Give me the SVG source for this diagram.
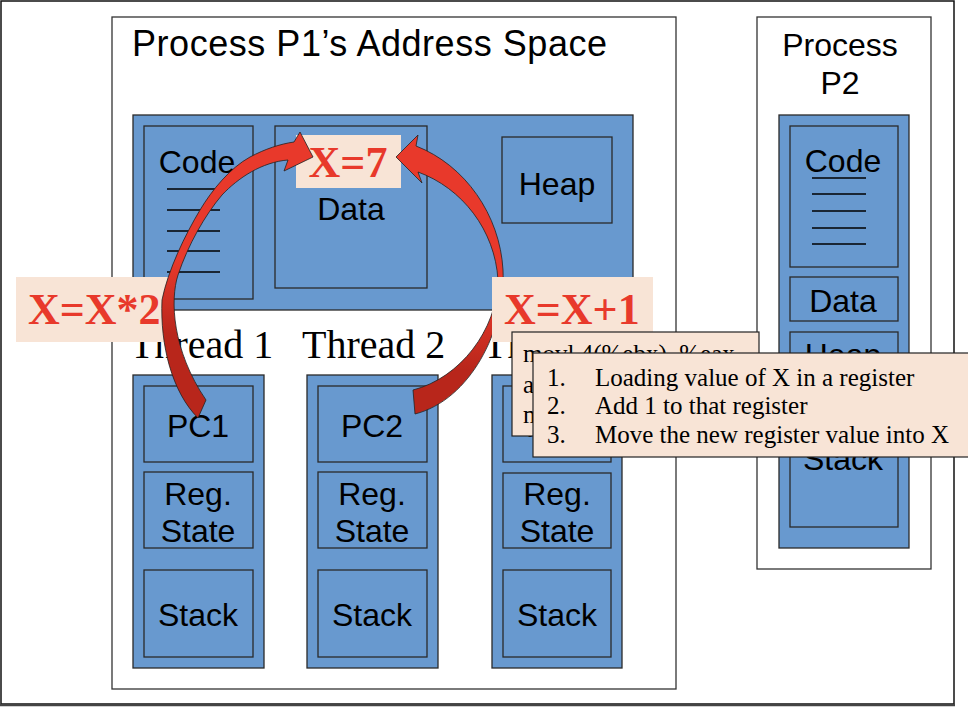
<svg xmlns="http://www.w3.org/2000/svg" width="968" height="708" viewBox="0 0 968 708">
<style>
.box{fill:#ffffff;stroke:#333;stroke-width:1.3}
.blue{fill:#6899cf;stroke:#2a2a2a;stroke-width:1.3}
.lbl{font-family:"Liberation Sans",Arial,sans-serif;font-size:32px;fill:#000;text-anchor:middle}
.thr{font-family:"Liberation Serif","Times New Roman",serif;font-size:40px;fill:#000}
.red{font-family:"Liberation Serif","Times New Roman",serif;font-size:44px;font-weight:bold;fill:#e8392b}
.note{fill:#f8e4d6;stroke:#222;stroke-width:1.2}
.peach{fill:#f8e4d6}
.nt{font-family:"Liberation Serif","Times New Roman",serif;font-size:25px;fill:#000}
.codeline{stroke:#000;stroke-width:1.6}
.arrow{stroke:#222;stroke-width:0.8}
</style>
<defs>
<linearGradient id="gL" gradientUnits="userSpaceOnUse" x1="0" y1="260" x2="0" y2="335">
<stop offset="0" stop-color="#e8392b"/><stop offset="1" stop-color="#b8261b"/>
</linearGradient>
<linearGradient id="gR" gradientUnits="userSpaceOnUse" x1="0" y1="295" x2="0" y2="370">
<stop offset="0" stop-color="#e8392b"/><stop offset="1" stop-color="#b8261b"/>
</linearGradient>
</defs>

<rect x="1" y="1" width="953" height="703" fill="#fff" stroke="#111" stroke-width="1.5"/>
<line x1="0" y1="705" x2="955" y2="705" stroke="#444" stroke-width="2.5"/>

<g id="p1">
<rect class="box" x="112" y="17" width="564" height="672"/>
<text x="132" y="56" font-family="Liberation Sans, Arial, sans-serif" font-size="36" textLength="475" lengthAdjust="spacing">Process P1’s Address Space</text>
</g>

<g id="p1-memory">
<rect class="blue" x="133" y="115" width="500" height="195"/>
</g>
<g id="p1-code">
<rect class="blue" x="144" y="126" width="109" height="173"/>
<text class="lbl" x="197" y="173">Code</text>
<line class="codeline" x1="167" y1="189" x2="220" y2="189"/>
<line class="codeline" x1="167" y1="210" x2="220" y2="210"/>
<line class="codeline" x1="167" y1="231" x2="220" y2="231"/>
<line class="codeline" x1="167" y1="251" x2="220" y2="251"/>
<line class="codeline" x1="167" y1="272" x2="220" y2="272"/>
</g>
<g id="p1-data">
<rect class="blue" x="275" y="126" width="152" height="162"/>
<text class="lbl" x="351" y="220">Data</text>
</g>
<g id="p1-heap">
<rect class="blue" x="502" y="137" width="110" height="86"/>
<text class="lbl" x="557" y="195">Heap</text>
</g>

<g id="thread-labels">
<text class="thr" x="130" y="358">Thread 1</text>
<text class="thr" x="302" y="358">Thread 2</text>
<text class="thr" x="483" y="358">Thread 3</text>
</g>

<g id="thread1">
<rect class="blue" x="133" y="375" width="131" height="293"/>
<rect class="blue" x="144" y="386" width="109" height="76"/>
<text class="lbl" x="198" y="437">PC1</text>
<rect class="blue" x="144" y="472" width="109" height="76"/>
<text class="lbl" x="198" y="505">Reg.</text>
<text class="lbl" x="198" y="542">State</text>
<rect class="blue" x="144" y="570" width="109" height="87"/>
<text class="lbl" x="198" y="626">Stack</text>
</g>
<g id="thread2">
<rect class="blue" x="307" y="375" width="131" height="293"/>
<rect class="blue" x="318" y="386" width="109" height="76"/>
<text class="lbl" x="372" y="437">PC2</text>
<rect class="blue" x="318" y="472" width="109" height="76"/>
<text class="lbl" x="372" y="505">Reg.</text>
<text class="lbl" x="372" y="542">State</text>
<rect class="blue" x="318" y="570" width="109" height="87"/>
<text class="lbl" x="372" y="626">Stack</text>
</g>
<g id="thread3">
<rect class="blue" x="492" y="375" width="130" height="293"/>
<rect class="blue" x="503" y="386" width="108" height="76"/>
<text class="lbl" x="557" y="437">PC3</text>
<rect class="blue" x="503" y="473" width="108" height="75"/>
<text class="lbl" x="557" y="505">Reg.</text>
<text class="lbl" x="557" y="542">State</text>
<rect class="blue" x="503" y="570" width="108" height="87"/>
<text class="lbl" x="557" y="626">Stack</text>
</g>

<g id="p2">
<rect class="box" x="757" y="17" width="174" height="552"/>
<text class="lbl" x="840" y="56">Process</text>
<text class="lbl" x="840" y="94">P2</text>
<rect class="blue" x="779" y="115" width="130" height="433"/>
<rect class="blue" x="790" y="126" width="108" height="141"/>
<text class="lbl" x="843" y="172">Code</text>
<line class="codeline" x1="812" y1="178" x2="866" y2="178"/>
<line class="codeline" x1="812" y1="194" x2="866" y2="194"/>
<line class="codeline" x1="812" y1="211" x2="866" y2="211"/>
<line class="codeline" x1="812" y1="228" x2="866" y2="228"/>
<line class="codeline" x1="812" y1="244" x2="866" y2="244"/>
<rect class="blue" x="790" y="277" width="108" height="44"/>
<text class="lbl" x="843" y="312">Data</text>
<rect class="blue" x="790" y="332" width="108" height="66"/>
<text class="lbl" x="843" y="366">Heap</text>
<rect class="blue" x="790" y="408" width="108" height="119"/>
<text class="lbl" x="843" y="470">Stack</text>
</g>

<g id="label-x7">
<rect class="peach" x="296" y="135" width="105" height="53"/>
<text class="red" x="348" y="177" text-anchor="middle">X=7</text>
</g>
<g id="label-xx2">
<rect class="peach" x="16" y="277" width="158" height="65"/>
<text class="red" x="28" y="324">X=X*2</text>
</g>

<g id="connectors">
<path class="arrow" fill="url(#gL)" d="M198,418 C172,392 160,345 162,300 C168,270 185,235 200,210 C212,190 230,168 250,157 C265,149 280,144 294,142 L300,132 L313,157 L284,171 L288,160 C262,162 238,178 222,195 C205,215 188,245 178,275 C170,300 172,350 206,400 Z"/>
<path class="arrow" fill="url(#gR)" d="M416,146 L418,135 L396,157 L422,183 L418,172 C462,188 495,230 498,280 C497,330 460,378 413,390 L415,414 C470,400 506,330 503,270 C500,215 465,165 416,146 Z"/>
</g>

<g id="label-xx1">
<rect class="peach" x="492" y="277" width="161" height="65"/>
<text class="red" x="504" y="324">X=X+1</text>
</g>

<g id="asm-note">
<rect class="note" x="512" y="332" width="247" height="104"/>
<text class="nt" x="523" y="362">movl 4(%ebx), %eax</text>
<text class="nt" x="523" y="393">addl $1, %eax</text>
<text class="nt" x="523" y="423">movl %eax, 4(%ebx)</text>
</g>

<g id="steps-note">
<rect class="note" x="533" y="353" width="440" height="104"/>
<text class="nt" x="547" y="386">1.</text>
<text class="nt" x="595" y="386">Loading value of X in a register</text>
<text class="nt" x="547" y="414">2.</text>
<text class="nt" x="595" y="414">Add 1 to that register</text>
<text class="nt" x="547" y="443">3.</text>
<text class="nt" x="595" y="443">Move the new register value into X</text>
</g>
</svg>
